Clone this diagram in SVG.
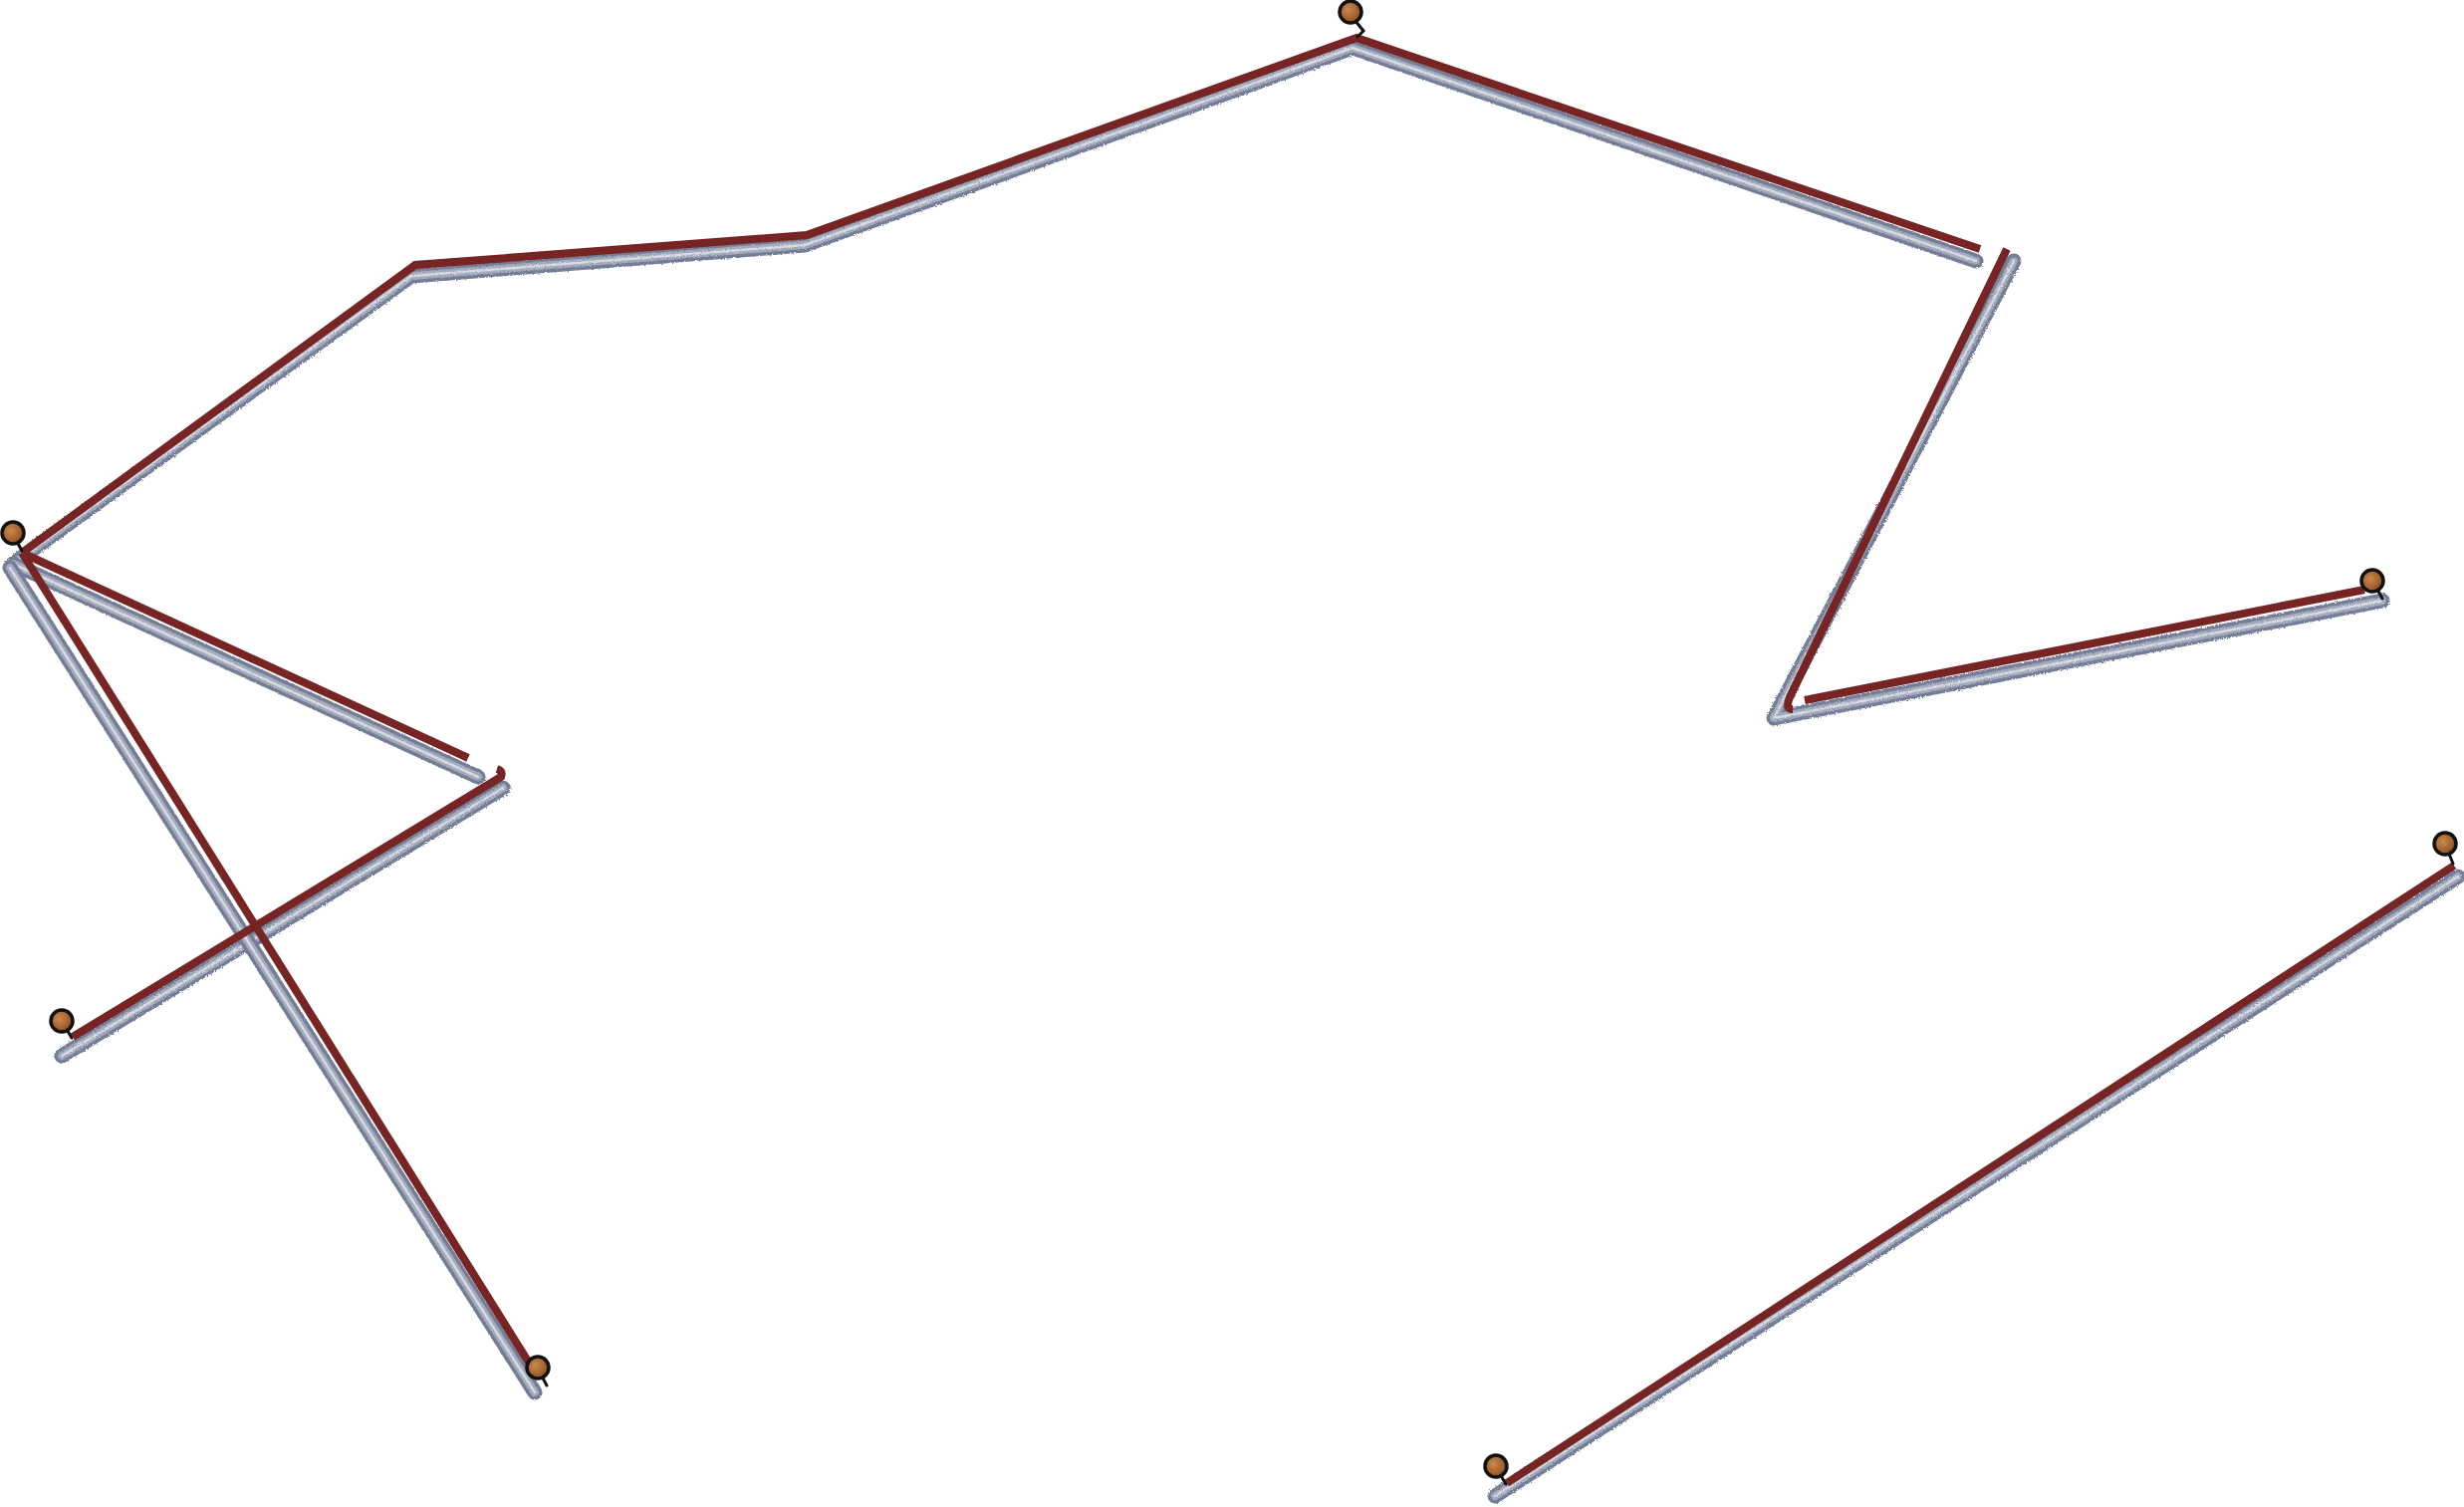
<svg xmlns="http://www.w3.org/2000/svg" width="2474" height="1513" viewBox="0 0 2474 1513">
<style>
.g1{fill:none;stroke:#737d95;stroke-width:15;stroke-linecap:round;stroke-linejoin:round}
.g2{fill:none;stroke:#a2aabb;stroke-width:8;stroke-linecap:round;stroke-linejoin:round}
.g3{fill:none;stroke:#d6dae3;stroke-width:2.5;stroke-linecap:round;stroke-linejoin:round}
.r{fill:none;stroke:#762424;stroke-width:8;stroke-linecap:butt;stroke-linejoin:miter}
.pin circle{fill:url(#brown);stroke:#111;stroke-width:3.5}
.pin path{fill:none;stroke:#111;stroke-width:3;stroke-linecap:round}
</style>
<defs>
<radialGradient id="brown" cx="0.4" cy="0.4" r="0.7">
<stop offset="0" stop-color="#c98a4e"/>
<stop offset="0.7" stop-color="#9c5a2a"/>
<stop offset="1" stop-color="#643618"/>
</radialGradient>
<filter id="rough" x="-5%" y="-5%" width="110%" height="110%">
<feTurbulence type="fractalNoise" baseFrequency="0.6" numOctaves="2" seed="3" result="n"/>
<feDisplacementMap in="SourceGraphic" in2="n" scale="3"/>
</filter>
</defs>
<rect width="2474" height="1513" fill="#ffffff"/>
<g id="rods" filter="url(#rough)">
<polyline class="g1" points="13,566 413,277 808,246 1358,48 1984,262"/>
<polyline class="g2" points="13,566 413,277 808,246 1358,48 1984,262"/>
<polyline class="g3" points="13,566 413,277 808,246 1358,48 1984,262"/>
<polyline class="g1" points="2022,262 1781,721 2392,603"/>
<polyline class="g2" points="2022,262 1781,721 2392,603"/>
<polyline class="g3" points="2022,262 1781,721 2392,603"/>
<line class="g1" x1="13" y1="566" x2="480" y2="780"/>
<line class="g2" x1="13" y1="566" x2="480" y2="780"/>
<line class="g3" x1="13" y1="566" x2="480" y2="780"/>
<line class="g1" x1="505" y1="791" x2="62" y2="1060"/>
<line class="g2" x1="505" y1="791" x2="62" y2="1060"/>
<line class="g3" x1="505" y1="791" x2="62" y2="1060"/>
<line class="g1" x1="10" y1="570" x2="537" y2="1398"/>
<line class="g2" x1="10" y1="570" x2="537" y2="1398"/>
<line class="g3" x1="10" y1="570" x2="537" y2="1398"/>
<line class="g1" x1="1501" y1="1502" x2="2468" y2="880"/>
<line class="g2" x1="1501" y1="1502" x2="2468" y2="880"/>
<line class="g3" x1="1501" y1="1502" x2="2468" y2="880"/>
</g>
<g id="lines">
<polyline class="r" points="22,555 417,266 810,236 1362,38 1988,250"/>
<path class="r" d="M2015,250 L1797,700 Q1792,712 1800,712"/>
<line class="r" x1="1812" y1="703" x2="2374" y2="592"/>
<line class="r" x1="22" y1="555" x2="470" y2="761"/>
<path class="r" d="M499,772 Q505,774 503,780 L73,1041"/>
<line class="r" x1="22" y1="555" x2="531" y2="1368"/>
<line class="r" x1="1513" y1="1489" x2="2464" y2="869"/>
</g>
<g id="pin-top" class="pin"><path d="M1360,20 L1369,31 L1363,37"/><circle cx="1356" cy="12" r="11"/></g>
<g id="pin-left" class="pin"><path d="M16,542 L22,553"/><circle cx="13" cy="535" r="11"/></g>
<g id="pin-left-low" class="pin"><path d="M66,1032 L72,1042"/><circle cx="62" cy="1025" r="11"/></g>
<g id="pin-bottom-left" class="pin"><path d="M543,1380 L549,1391"/><circle cx="540" cy="1373" r="11"/></g>
<g id="pin-bottom" class="pin"><path d="M1506,1480 L1512,1490"/><circle cx="1502" cy="1472" r="11"/></g>
<g id="pin-right" class="pin"><path d="M2386,590 L2392,601"/><circle cx="2382" cy="583" r="11"/></g>
<g id="pin-right-low" class="pin"><path d="M2458,855 L2463,867"/><circle cx="2455" cy="847" r="11"/></g>
</svg>
